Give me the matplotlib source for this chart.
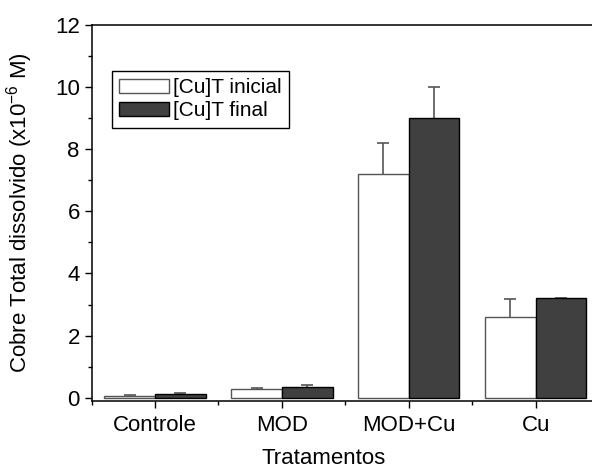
import numpy as np
import matplotlib
matplotlib.use("Agg")
import matplotlib.pyplot as plt
from matplotlib.ticker import MultipleLocator

plt.rcParams['font.family'] = ['Liberation Sans', 'DejaVu Sans']
plt.rcParams['mathtext.fontset'] = 'custom'
plt.rcParams['mathtext.rm'] = 'Liberation Sans'
plt.rcParams['mathtext.it'] = 'Liberation Sans'

# data
tratamentos = ['Controle', 'MOD', 'MOD+Cu', 'Cu']
cu_inicial = [0.07, 0.27, 7.2, 2.6]
cu_inicial_err = [0.02, 0.06, 1.0, 0.57]
cu_final = [0.13, 0.35, 9.0, 3.2]
cu_final_err = [0.02, 0.05, 1.0, 0.02]

fig = plt.figure(figsize=(5.92, 4.72), dpi=100)
ax = fig.add_axes([91.6 / 592, 71 / 472, 507.4 / 592, 376.3 / 472])

x = np.arange(len(tratamentos))
w = 0.4

ax.bar(x - w / 2, cu_inicial, w, color='white', edgecolor='#555555',
       linewidth=1.0, label='[Cu]T inicial', zorder=2)
ax.bar(x + w / 2, cu_final, w, color='#404040', edgecolor='black',
       linewidth=1.0, label='[Cu]T final', zorder=2)

# upper error bars only (hide the lower cap)
for xs, vals, errs in [(x - w / 2, cu_inicial, cu_inicial_err),
                       (x + w / 2, cu_final, cu_final_err)]:
    eb = ax.errorbar(xs, vals, yerr=[np.zeros(len(vals)), errs],
                     fmt='none', ecolor='#555555', elinewidth=1.2,
                     capsize=4, capthick=1.2, zorder=1)
    eb[1][0].set_visible(False)

ax.set_xlim(-0.5, 3.5)
ax.set_ylim(-0.1, 12)
ax.set_xticks(x)
ax.set_xticklabels(tratamentos)
ax.xaxis.set_minor_locator(MultipleLocator(1, offset=0.5))
ax.yaxis.set_major_locator(MultipleLocator(2))
ax.yaxis.set_minor_locator(MultipleLocator(1))

ax.tick_params(axis='both', which='major', direction='out', length=5,
               width=1, labelsize=16, top=False, right=False)
ax.tick_params(axis='both', which='minor', direction='out', length=3,
               width=1, top=False, right=False)
ax.tick_params(axis='x', which='major', pad=5)

for s in ax.spines.values():
    s.set_linewidth(1.1)

ax.set_ylabel('Cobre Total dissolvido (x10$^{-6}$ M)', fontsize=16)
ax.set_xlabel('Tratamentos', fontsize=16)
ax.xaxis.set_label_coords(0.458, -0.125)
ax.yaxis.set_label_coords(-0.111, 0.5)

leg = ax.legend(loc='upper left', bbox_to_anchor=(0.040, 0.877), fontsize=15,
                frameon=True, fancybox=False, framealpha=1,
                edgecolor='black', handlelength=2.4, handleheight=0.7,
                handletextpad=0.2, borderpad=0.35, labelspacing=0.2,
                borderaxespad=0)
leg.get_frame().set_linewidth(1.0)

fig.savefig('out.png', dpi=100, facecolor='white')
